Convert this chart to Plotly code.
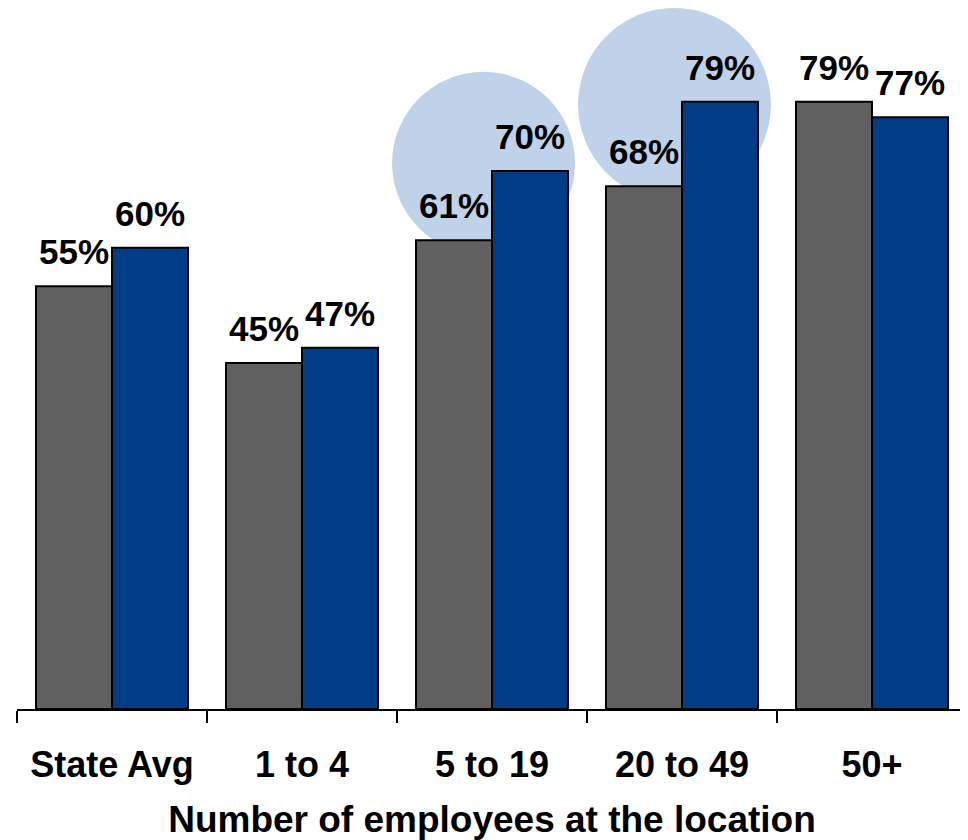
"""Bar chart: share by number of employees at the location."""
import plotly.graph_objects as go

categories = ["State Avg", "1 to 4", "5 to 19", "20 to 49", "50+"]
series_gray = [55, 45, 61, 68, 79]
series_blue = [60, 47, 70, 79, 77]

GRAY = "#606060"
BLUE = "#003d86"
FONT = "Arial, Liberation Sans, sans-serif"

# highlight circles (category index + data units)
highlights = [
    dict(x0=1.474, x1=2.437, y0=59.1, y1=82.9),
    dict(x0=2.453, x1=3.468, y0=66.1, y1=91.2),
]

fig = go.Figure()
for vals, col in ((series_gray, GRAY), (series_blue, BLUE)):
    fig.add_trace(go.Bar(
        x=categories,
        y=vals,
        marker=dict(color=col, line=dict(color="black", width=2)),
        cliponaxis=False,
    ))

# value labels above each bar
for vals, dx in ((series_gray, -38), (series_blue, 38)):
    for cat, v in zip(categories, vals):
        fig.add_annotation(
            x=cat, y=v, text=f"<b>{v}%</b>", showarrow=False,
            xshift=dx, yshift=13, yanchor="bottom",
            font=dict(family=FONT, size=35, color="black"),
        )

for h in highlights:
    fig.add_shape(
        type="circle", xref="x", yref="y", layer="below",
        fillcolor="#c0d1ea", line=dict(width=0), **h,
    )

# page body has an 8px margin, so the figure is a bit smaller than the window
fig.update_layout(
    width=960,
    height=832,
    barmode="group",
    bargap=0.2,
    bargroupgap=0,
    showlegend=False,
    plot_bgcolor="white",
    paper_bgcolor="white",
    margin=dict(l=9, r=1, t=0, b=131),
    font=dict(family=FONT, color="black"),
)
fig.update_xaxes(
    showline=True, linecolor="black", linewidth=2,
    ticks="outside", tickson="boundaries", ticklen=12, tickwidth=2, tickcolor="black",
    tickfont=dict(family=FONT, size=36),
    tickprefix="<b>", ticksuffix="</b>",
    ticklabelstandoff=23,
    title=dict(text="<b>Number of employees at the location</b>",
               font=dict(family=FONT, size=37), standoff=27),
)
fig.update_yaxes(range=[0, 91.2], visible=False, showgrid=False)

fig.write_html("out.html")
